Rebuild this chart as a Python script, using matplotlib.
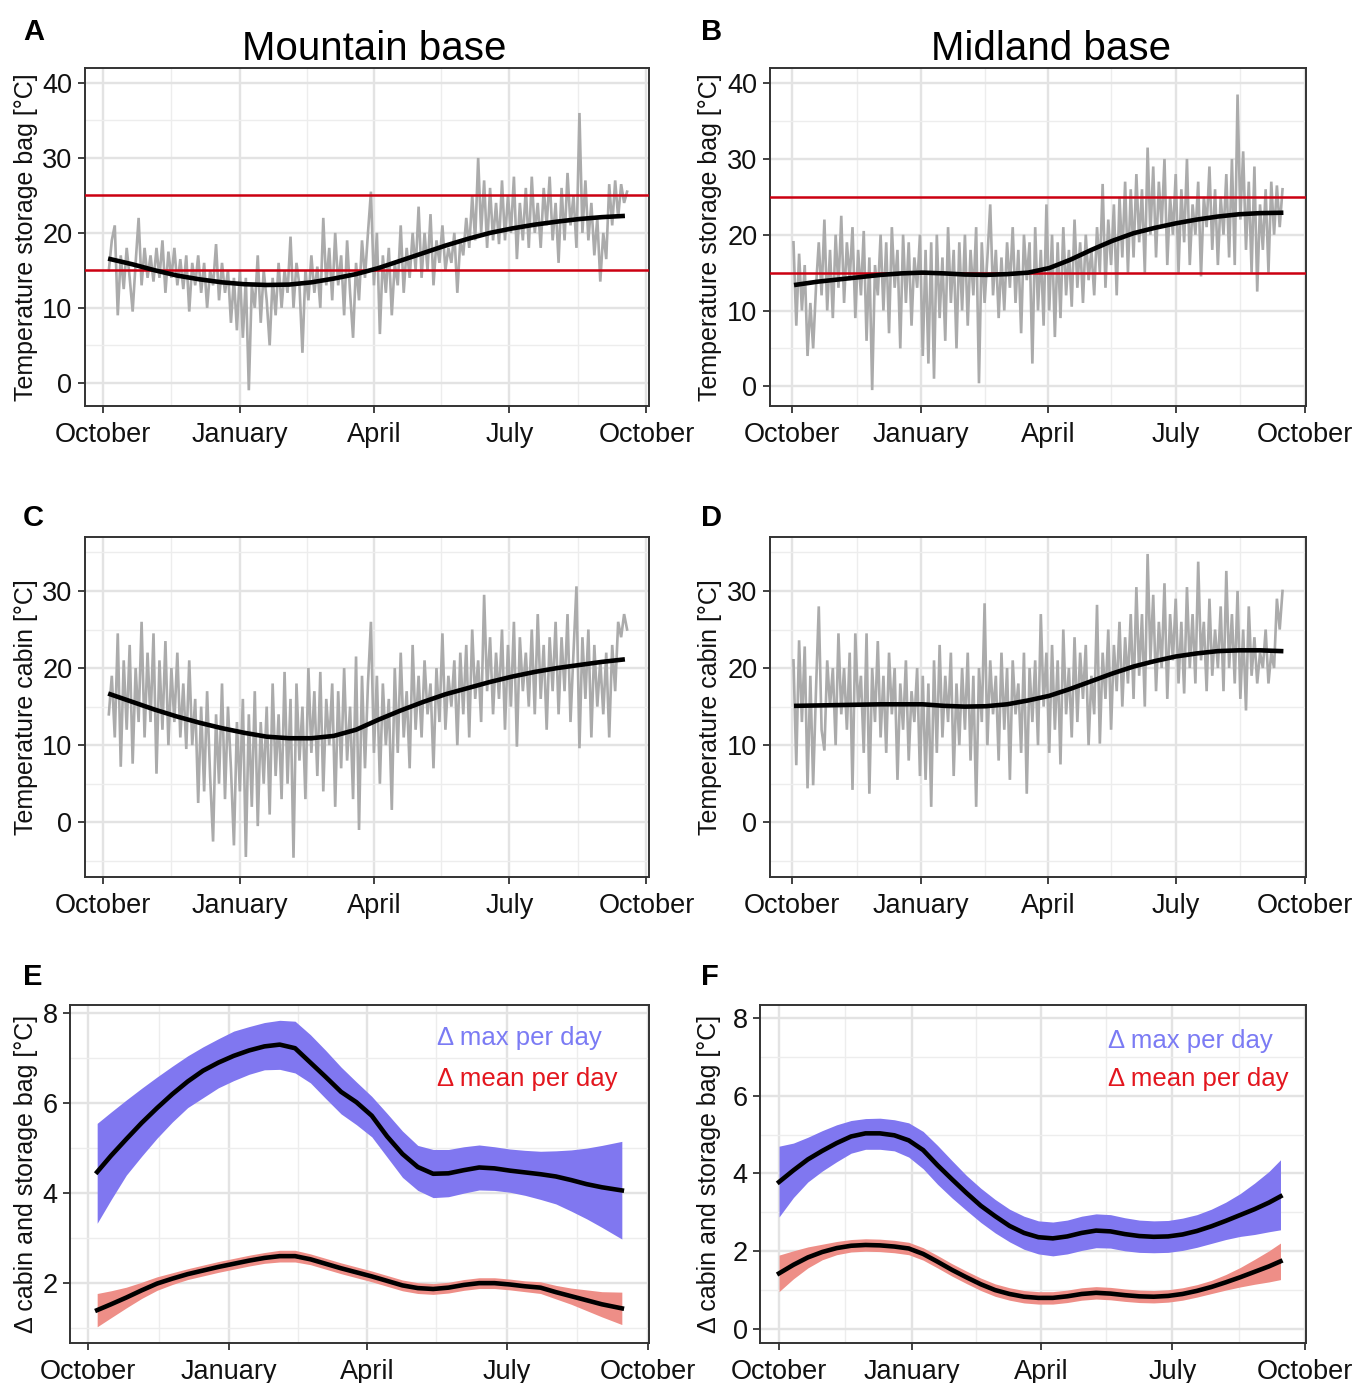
import numpy as np
import matplotlib
matplotlib.use('Agg')
import matplotlib.pyplot as plt

plt.rcParams['font.family'] = ['Liberation Sans', 'DejaVu Sans']

# ---------------- DATA ----------------
START = np.datetime64('2018-10-01')
month_ticks_days = [0, 92, 182, 273, 365]
month_labels = ['October', 'January', 'April', 'July', 'October']
minor_ticks_days = [46, 137, 227, 319]

# Grey raw series (every 2 days, alternating daily extremes)
# Mountain base, storage bag (starts day 4)
mountain_bag = [
    15, 19, 21, 9, 17, 12.5, 18, 14, 9.5, 16, 22, 13, 18, 14,                 # Oct
    17, 13.5, 18, 14, 19, 12, 17.5, 14, 18, 13, 16.5, 12.5, 17, 9.5, 16,        # Nov
    13, 17, 12, 16, 10, 15, 13, 18.5, 11, 16, 12, 15, 8, 14, 7,                 # Dec
    15, 6, 14, -1, 13, 10, 17, 8, 15, 11, 5, 14, 9, 16, 10, 15,                 # Jan
    12, 19.5, 10, 16, 13, 4, 15, 11, 17, 12, 15.5, 10, 22, 13,                  # Feb
    18, 11, 20, 13, 17, 9, 19, 12, 6, 16, 11, 19, 14, 20, 25.5,                 # Mar
    13, 20, 6.5, 17, 12, 18, 9, 16, 13, 21, 12, 18, 14, 20, 15,                 # Apr
    23.5, 14, 20, 15, 22.5, 13, 19, 16, 21, 15, 18, 16, 20, 12, 19, 17,         # May
    22, 18, 25, 19, 30, 20, 27, 18, 26, 19, 24, 18.5, 27, 19, 25,               # Jun
    20, 27.5, 16.5, 24, 19, 26, 18, 27.5, 20, 24, 18, 26, 21, 27.5, 19,         # Jul
    24, 16, 26, 19, 28, 21, 25, 18, 36, 20, 27, 19, 24, 17, 22, 13.5,           # Aug
    20, 16.5, 26.5, 21, 27, 22, 26.5, 24, 25.5,                                 # Sep
]
# Midland base, storage bag (starts day 1)
midland_bag = [
    19, 8, 17.5, 10, 16, 4, 11, 5, 13, 19, 12, 22, 10, 18, 9,                   # Oct
    20, 13, 22.5, 11, 19, 14, 21, 9, 18, 12, 20.5, 6, 17, -0.5, 16,             # Nov
    12, 20, 10, 19, 7, 21, 13, 18, 5, 20, 11, 19, 8, 17, 13, 20,                # Dec
    4, 18, 3, 19, 1, 20, 9, 17, 6, 21, 11, 18, 5, 19, 10,                       # Jan
    20, 8, 18, 12, 21, 0.4, 19, 11, 17, 24, 12, 18, 9, 17,                      # Feb
    10, 19, 13, 21, 11, 18, 7, 20, 14, 19, 3, 21, 10, 18, 8, 24,                # Mar
    10, 20, 6.5, 19, 9, 21, 12, 18, 10.5, 22, 13, 19, 11, 20, 14,               # Apr
    18, 12, 21, 15, 26.7, 13, 22, 16, 24, 12, 25, 17, 27, 15, 26,               # May
    17, 28, 19, 26, 15, 31.5, 20, 29, 17, 27, 21, 30, 16, 25, 20,               # Jun
    28, 15, 26, 19, 30, 16, 24, 20, 27, 14.5, 25, 21, 29, 18, 26, 16,           # Jul
    25, 20, 28, 17, 30, 16, 38.5, 22, 31, 18, 27, 15, 29, 12.5, 24,             # Aug
    18, 26, 15, 27, 20, 26.5, 21, 26,                                           # Sep
]
# Mountain base, cabin (starts day 4)
mountain_cabin = [
    14, 19, 11, 24.5, 7.2, 21, 12, 23, 7.6, 20, 13, 26, 11, 22,                 # Oct
    13, 24.5, 6.3, 21, 12, 23.5, 10, 20, 13, 22, 11, 18, 9.5, 21, 10,           # Nov
    16, 2.5, 15, 4, 17, 6, -2.5, 14, 5, 18, 3, 15, 7, -3, 13,                   # Dec
    4, 16, -4.5, 14, 2, 17, -0.5, 13, 5, 15, 1, 18, 6, 14, 3, 19.5,             # Jan
    5, 16, -4.6, 18, 8, 15, 3, 20, 9, 17, 6, 19.5, 4, 16,                       # Feb
    10, 18, 2, 17, 7, 20, 8, 15, 3, 21.5, -1, 19, 7, 18, 26,                    # Mar
    9, 19, 5, 18, 10, 16, 1.6, 20, 9, 22, 11, 17, 7, 23, 12,                    # Apr
    19, 11, 21, 14, 18, 7, 20, 13, 24.5, 12, 19, 15, 21, 10, 22, 14,            # May
    23, 11, 25, 16, 21, 13, 29.5, 17, 24, 14, 22, 16, 25, 12, 23,               # Jun
    15, 26, 9.8, 24, 17, 22, 15, 25, 14, 27, 16, 23, 12, 24, 17,                # Jul
    26, 14, 24, 17, 27, 13, 22, 30.6, 9.6, 24, 16, 25, 11, 23, 15, 21,          # Aug
    14, 22, 11, 23, 17, 26, 24, 27, 25,                                         # Sep
]
# Midland base, cabin (starts day 1)
midland_cabin = [
    21, 7.4, 23.6, 13, 22.8, 4.4, 19, 4.8, 17, 28, 12, 9.3, 21, 15, 20,         # Oct
    10, 24.5, 14, 20, 12, 22, 4.2, 24.5, 15, 19, 9, 24.5, 3.7, 20, 13,          # Nov
    23.5, 11, 19, 9, 22, 14, 20, 5.5, 18, 12, 21, 8, 17, 13, 20, 6,             # Dec
    19, 5.5, 18, 2, 21, 9, 23, 11, 19, 13, 22, 6, 18, 10, 20,                   # Jan
    12, 22, 8, 19, 2, 20, 13, 28.4, 10, 21, 14, 19, 8, 22,                      # Feb
    12, 20, 5.5, 21, 14, 18, 9, 22, 3.7, 20, 13, 21, 10, 27, 15, 22,            # Mar
    9, 23, 12, 21, 7.5, 25, 14, 20, 11, 24, 13, 22, 16, 23, 10,                 # Apr
    19, 14, 28.2, 10.2, 22, 16, 25, 12, 23, 17, 26, 15, 24, 18, 27,             # May
    16, 30.5, 19, 27, 15, 34.8, 21, 29.5, 17, 26, 20, 31, 16, 27, 21,           # Jun
    29, 18, 26, 16.7, 30.5, 20, 27, 18, 33.8, 21, 26, 17, 29, 19, 25, 20,       # Jul
    28, 17, 32.6, 20, 27, 18, 30, 16, 25, 14.5, 28, 19, 24, 18, 22,             # Aug
    20, 25, 18, 22, 20, 29, 25, 30,                                             # Sep
]
mountain_start_day = 4
midland_start_day = 1
raw_step_days = 2

# Smoothed trends (black lines)
smooth_days_m = [5, 20, 35, 50, 65, 80, 95, 110, 125, 140, 155, 170, 185, 200, 215, 230, 245, 260, 275, 290, 305, 320, 335, 349]
smooth_days_d = [3, 18, 33, 48, 63, 78, 93, 108, 123, 138, 153, 168, 183, 198, 213, 228, 243, 258, 273, 288, 303, 318, 333, 348]
smooth_mountain_bag = [16.5, 15.8, 15.0, 14.3, 13.8, 13.4, 13.15, 13.05, 13.1, 13.4, 13.9, 14.5, 15.3, 16.3, 17.3, 18.3, 19.2, 20.0, 20.6, 21.1, 21.5, 21.85, 22.1, 22.25]
smooth_midland_bag = [13.4, 13.8, 14.1, 14.4, 14.7, 14.9, 15.0, 14.9, 14.75, 14.7, 14.8, 15.0, 15.6, 16.7, 18.0, 19.2, 20.2, 20.9, 21.5, 22.0, 22.4, 22.7, 22.85, 22.9]
smooth_mountain_cabin = [16.6, 15.6, 14.6, 13.7, 12.9, 12.2, 11.6, 11.1, 10.9, 10.9, 11.2, 12.0, 13.3, 14.5, 15.6, 16.6, 17.4, 18.2, 18.9, 19.5, 20.0, 20.4, 20.8, 21.1]
smooth_midland_cabin = [15.1, 15.15, 15.2, 15.25, 15.3, 15.3, 15.3, 15.1, 15.0, 15.05, 15.3, 15.8, 16.4, 17.3, 18.3, 19.3, 20.2, 20.9, 21.5, 21.9, 22.2, 22.3, 22.3, 22.2]

comfort_limits = [15, 25]

# Differences cabin - storage bag (panels E, F)
diff_days_m = [6, 15, 25, 35, 45, 55, 65, 75, 85, 95, 105, 115, 125, 135, 145, 155, 165, 175,
               185, 195, 205, 215, 225, 235, 245, 255, 265, 275, 285, 295, 305, 315, 325, 335, 348]
m_max_fit = [4.47, 4.83, 5.2, 5.56, 5.89, 6.2, 6.48, 6.72, 6.9, 7.05, 7.17, 7.26, 7.3, 7.22, 6.9, 6.58, 6.25, 6.02,
             5.72, 5.26, 4.87, 4.58, 4.43, 4.44, 4.51, 4.57, 4.55, 4.5, 4.46, 4.42, 4.37, 4.29, 4.2, 4.13, 4.06]
m_max_hi = [5.55, 5.8, 6.07, 6.33, 6.58, 6.82, 7.05, 7.25, 7.43, 7.6, 7.7, 7.79, 7.84, 7.82, 7.52, 7.17, 6.8, 6.47,
            6.15, 5.77, 5.38, 5.06, 4.97, 4.97, 5.03, 5.07, 5.03, 4.98, 4.95, 4.93, 4.94, 4.96, 5.0, 5.06, 5.15]
m_max_lo = [3.33, 3.85, 4.4, 4.82, 5.22, 5.58, 5.9, 6.12, 6.34, 6.5, 6.64, 6.74, 6.75, 6.67, 6.45, 6.1, 5.76, 5.52,
            5.25, 4.8, 4.35, 4.06, 3.9, 3.92, 4.0, 4.07, 4.06, 4.02, 3.95, 3.86, 3.76, 3.6, 3.43, 3.24, 2.98]
m_mean_fit = [1.4, 1.53, 1.68, 1.84, 1.99, 2.1, 2.2, 2.28, 2.36, 2.43, 2.5, 2.56, 2.6, 2.6, 2.53, 2.43, 2.33, 2.24,
              2.15, 2.05, 1.95, 1.89, 1.87, 1.9, 1.96, 2.0, 2.0, 1.97, 1.93, 1.9, 1.8, 1.71, 1.62, 1.53, 1.44]
m_mean_lo = [1.03, 1.23, 1.45, 1.66, 1.84, 1.97, 2.08, 2.16, 2.24, 2.31, 2.38, 2.44, 2.47, 2.47, 2.41, 2.31, 2.21, 2.12,
             2.03, 1.93, 1.83, 1.77, 1.75, 1.78, 1.84, 1.88, 1.88, 1.85, 1.81, 1.77, 1.65, 1.53, 1.39, 1.25, 1.08]
m_mean_hi = [1.77, 1.83, 1.91, 2.02, 2.14, 2.23, 2.32, 2.4, 2.48, 2.55, 2.62, 2.68, 2.73, 2.73, 2.65, 2.55, 2.45, 2.36,
             2.27, 2.17, 2.07, 2.01, 1.99, 2.02, 2.08, 2.12, 2.12, 2.09, 2.05, 2.03, 1.95, 1.89, 1.85, 1.81, 1.8]

diff_days_d = [0, 10, 20, 30, 40, 50, 60, 70, 80, 90, 100, 110, 120, 130, 140, 150, 160, 170,
               180, 190, 200, 210, 220, 230, 240, 250, 260, 270, 280, 290, 300, 310, 320, 330, 340, 348]
d_max_fit = [3.78, 4.08, 4.36, 4.58, 4.78, 4.95, 5.03, 5.03, 4.98, 4.85, 4.6, 4.21, 3.85, 3.5, 3.17, 2.9, 2.65, 2.47,
             2.36, 2.33, 2.38, 2.47, 2.53, 2.51, 2.44, 2.39, 2.37, 2.38, 2.43, 2.52, 2.64, 2.78, 2.93, 3.08, 3.25, 3.41]
d_max_hi = [4.7, 4.78, 4.93, 5.1, 5.25, 5.36, 5.41, 5.42, 5.38, 5.3, 5.08, 4.72, 4.33, 3.95, 3.62, 3.33, 3.08, 2.9,
            2.78, 2.75, 2.8, 2.9, 2.96, 2.94, 2.86, 2.8, 2.78, 2.79, 2.85, 2.94, 3.08, 3.26, 3.48, 3.75, 4.05, 4.35]
d_max_lo = [2.88, 3.38, 3.78, 4.06, 4.3, 4.52, 4.62, 4.62, 4.58, 4.42, 4.12, 3.72, 3.37, 3.05, 2.74, 2.47, 2.24, 2.05,
            1.93, 1.88, 1.93, 2.02, 2.09, 2.08, 2.01, 1.97, 1.96, 1.97, 2.02, 2.1, 2.2, 2.3, 2.38, 2.43, 2.5, 2.55]
d_mean_fit = [1.43, 1.65, 1.84, 1.98, 2.08, 2.14, 2.16, 2.15, 2.12, 2.07, 1.93, 1.73, 1.52, 1.33, 1.15, 1.0, 0.9, 0.83,
              0.8, 0.8, 0.84, 0.9, 0.93, 0.91, 0.87, 0.84, 0.83, 0.85, 0.9, 0.98, 1.08, 1.2, 1.33, 1.47, 1.61, 1.74]
d_mean_lo = [0.96, 1.29, 1.57, 1.78, 1.91, 1.98, 2.0, 1.99, 1.96, 1.91, 1.77, 1.57, 1.36, 1.17, 0.99, 0.84, 0.74, 0.67,
             0.64, 0.64, 0.68, 0.74, 0.77, 0.75, 0.71, 0.68, 0.67, 0.69, 0.74, 0.82, 0.91, 1.0, 1.08, 1.15, 1.21, 1.27]
d_mean_hi = [1.9, 2.01, 2.11, 2.18, 2.25, 2.3, 2.32, 2.31, 2.28, 2.23, 2.09, 1.89, 1.68, 1.49, 1.31, 1.16, 1.06, 0.99,
             0.96, 0.96, 1.0, 1.06, 1.09, 1.07, 1.03, 1.0, 0.99, 1.01, 1.06, 1.14, 1.25, 1.4, 1.58, 1.79, 2.01, 2.21]


# ---------------- HELPERS ----------------
def to_dates(days):
    hours = np.round(np.asarray(days, dtype=float) * 24).astype('int64')
    return START + hours.astype('timedelta64[h]')


def raw_dates(start_day, n):
    return to_dates(start_day + raw_step_days * np.arange(n))


W, H = 1356, 1383
fig = plt.figure(figsize=(W / 100, H / 100), dpi=100)


def make_axes(px_left, px_top, px_right, px_bottom):
    return fig.add_axes([px_left / W, 1 - px_bottom / H,
                         (px_right - px_left) / W, (px_bottom - px_top) / H])


FRAME = '#333333'


def style(ax, xlim_days, ylim, yticks, yminor, ylabel, label_x):
    ax.set_xlim(to_dates(xlim_days))
    ax.set_ylim(ylim)
    ax.set_xticks(to_dates(month_ticks_days))
    ax.set_xticklabels(month_labels)
    ax.set_xticks(to_dates(minor_ticks_days), minor=True)
    ax.set_yticks(yticks)
    ax.set_yticklabels([f'{v:g}' for v in yticks])
    ax.set_yticks(yminor, minor=True)
    ax.grid(which='major', color='#E3E3E3', lw=1.7)
    ax.grid(which='minor', color='#EDEDED', lw=1.0)
    ax.set_axisbelow(True)
    ax.tick_params(which='minor', length=0)
    ax.tick_params(which='major', length=5, width=1.3, labelsize=19.5,
                   color=FRAME, labelcolor='#111111')
    ax.tick_params(axis='x', which='major', pad=6.5)
    ax.tick_params(axis='y', which='major', pad=4)
    for s in ax.spines.values():
        s.set_color(FRAME)
        s.set_linewidth(1.4)
    ax.set_ylabel(ylabel, fontsize=18, color='#111111')
    ax.yaxis.set_label_coords(label_x, 0.5)


GREY = '#ABABAB'
RED_LINE = '#CC0011'

# ---------------- PANELS A-D ----------------
panels = [
    (mountain_bag, mountain_start_day, smooth_days_m, smooth_mountain_bag,
     (85, 68, 649, 406), (-12, 366.7), (-3.1, 42), [0, 10, 20, 30, 40], [5, 15, 25, 35],
     'Temperature storage bag [°C]', -0.083, True),
    (midland_bag, midland_start_day, smooth_days_d, smooth_midland_bag,
     (770, 68, 1306, 406), (-15.7, 365.7), (-2.6, 42), [0, 10, 20, 30, 40], [5, 15, 25, 35],
     'Temperature storage bag [°C]', -0.089, True),
    (mountain_cabin, mountain_start_day, smooth_days_m, smooth_mountain_cabin,
     (85, 537, 649, 877), (-12, 366.7), (-7.1, 37), [0, 10, 20, 30], [-5, 5, 15, 25, 35],
     'Temperature cabin [°C]', -0.083, False),
    (midland_cabin, midland_start_day, smooth_days_d, smooth_midland_cabin,
     (770, 537, 1306, 877), (-15.7, 365.7), (-7.1, 37), [0, 10, 20, 30], [-5, 5, 15, 25, 35],
     'Temperature cabin [°C]', -0.089, False),
]

for raw, sd, sdays, smooth, box, xl, yl, yt, ym, ylab, lx, red in panels:
    ax = make_axes(*box)
    ax.plot(raw_dates(sd, len(raw)), raw, color=GREY, lw=1.9, zorder=2,
            solid_joinstyle='miter')
    if red:
        for v in comfort_limits:
            ax.axhline(v, color=RED_LINE, lw=1.8, zorder=3)
    ax.plot(to_dates(sdays), smooth, color='black', lw=3.3, zorder=4)
    style(ax, xl, yl, yt, ym, ylab, lx)

# ---------------- PANELS E-F ----------------
BLUE_FILL = '#8077F0'
RED_FILL = '#EE8E87'
BLUE_TXT = '#7B7BF4'
RED_TXT = '#E3161E'

diff_panels = [
    (diff_days_m, m_max_fit, m_max_lo, m_max_hi, m_mean_fit, m_mean_lo, m_mean_hi,
     (70, 1005, 649, 1343), (-11.7, 365.7), (0.67, 8.18), [2, 4, 6, 8], [1, 3, 5, 7],
     -0.055, 0.634, (0.882, 0.760)),
    (diff_days_d, d_max_fit, d_max_lo, d_max_hi, d_mean_fit, d_mean_lo, d_mean_hi,
     (760, 1005, 1306, 1343), (-13.2, 365.7), (-0.36, 8.33), [0, 2, 4, 6, 8], [1, 3, 5, 7],
     -0.071, 0.637, (0.873, 0.760)),
]

for days, mx, mxlo, mxhi, mn, mnlo, mnhi, box, xl, yl, yt, ym, lx, tx, ty in diff_panels:
    ax = make_axes(*box)
    d = to_dates(days)
    ax.fill_between(d, mxlo, mxhi, color=BLUE_FILL, lw=0, zorder=2)
    ax.fill_between(d, mnlo, mnhi, color=RED_FILL, lw=0, zorder=2)
    ax.plot(d, mx, color='black', lw=3.3, zorder=4)
    ax.plot(d, mn, color='black', lw=3.3, zorder=4)
    style(ax, xl, yl, yt, ym, 'Δ cabin and storage bag [°C]', lx)
    ax.text(tx, ty[0], 'Δ max per day', transform=ax.transAxes, color=BLUE_TXT,
            fontsize=18.5, ha='left', va='baseline')
    ax.text(tx, ty[1], 'Δ mean per day', transform=ax.transAxes, color=RED_TXT,
            fontsize=18.5, ha='left', va='baseline')

# ---------------- TITLES & PANEL LETTERS ----------------
fig.text(374 / W, 1 - 60 / H, 'Mountain base', ha='center', va='baseline', fontsize=29)
fig.text(1051 / W, 1 - 60 / H, 'Midland base', ha='center', va='baseline', fontsize=29)
letters = [('A', 23, 40), ('B', 701, 40), ('C', 23, 526), ('D', 701, 526),
           ('E', 23, 985), ('F', 701, 985)]
for L, x, y in letters:
    fig.text(x / W, 1 - y / H, L, ha='left', va='baseline', fontsize=21,
             fontweight='bold')

fig.savefig('out.png', dpi=100, facecolor='white')
